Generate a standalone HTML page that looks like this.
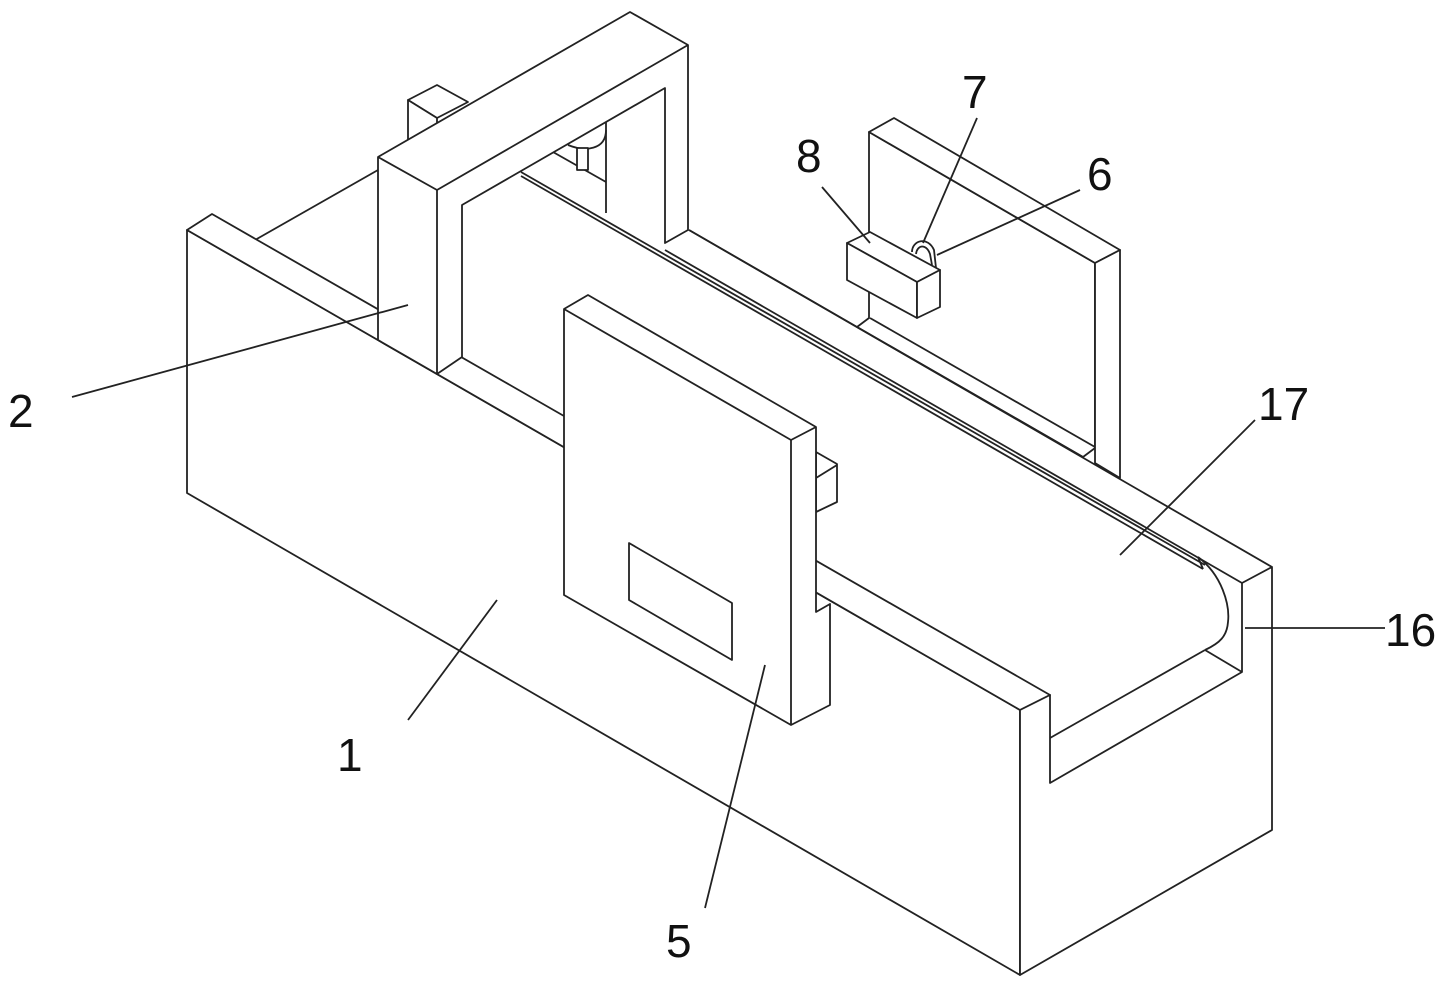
<!DOCTYPE html>
<html><head><meta charset="utf-8"><style>
html,body{margin:0;padding:0;background:#fff;}
svg{display:block}
text{font-family:"Liberation Sans",sans-serif;font-size:46px;fill:#111}
</style></head><body>
<svg width="1443" height="988" viewBox="0 0 1443 988" xmlns="http://www.w3.org/2000/svg">
<g stroke="#222" stroke-width="1.8" fill="none" stroke-linejoin="round">
<!-- back wall lines -->
<line x1="689" y1="230" x2="1272" y2="567"/>
<line x1="665" y1="250" x2="1242" y2="583"/>
<!-- belt far edge double -->
<line x1="521" y1="172" x2="1205" y2="565"/>
<line x1="521" y1="176" x2="1203" y2="569"/>
<!-- left end back edge -->
<line x1="255" y1="240" x2="378" y2="170"/>
<!-- back panel -->
<polygon points="869,132 1095,263 1095,448 1083,457 857,327 869,318" fill="#fff"/>
<polygon points="869,132 894,118 1120,250 1095,263" fill="#fff"/>
<polygon points="1095,263 1120,250 1120,478 1095,463" fill="#fff"/>
<line x1="870" y1="318" x2="1095" y2="447"/>
<line x1="857" y1="327" x2="1083" y2="457"/>
<line x1="689" y1="230" x2="857" y2="327"/>
<!-- box 8 -->
<polygon points="847,243 870,232 940,270 917,282" fill="#fff"/>
<polygon points="847,243 917,282 917,318 847,280" fill="#fff"/>
<polygon points="917,282 940,270 940,307 917,318" fill="#fff"/>
<path d="M912,252 C912,240 928,236 934,250 L936,268" />
<path d="M916,254 C917,245 926,243 930,254 L932,265" />
<!-- small block behind gantry -->
<polygon points="408,100 437,85 468,102 437,118" fill="#fff"/>
<polygon points="408,100 437,118 437,160 408,145" fill="#fff"/>
<!-- nozzle -->
<line x1="606" y1="120" x2="606" y2="213"/>
<line x1="553" y1="152" x2="606" y2="182"/>
<path d="M568,145 C585,152 606,150 606,130" fill="#fff"/>
<rect x="577" y="148" width="11" height="22" fill="#fff"/>
<!-- base front wall -->
<polygon points="187,230 1020,710 1020,975 187,493" fill="#fff"/>
<polygon points="187,230 212,214 1050,695 1020,710" fill="#fff"/>
<!-- gantry -->
<polygon points="378,157 630,12 688,45 688,230 665,243 665,88 462,205 462,357 437,374 378,340" fill="#fff"/>
<polyline points="378,157 437,190 688,45"/>
<line x1="437" y1="190" x2="437" y2="374"/>
<!-- panel 5 side block -->
<polygon points="816,452 837,464 837,502 816,512" fill="#fff"/>
<line x1="816" y1="478" x2="837" y2="465"/>
<!-- panel 5 -->
<polygon points="564,309 588,295 816,427 816,612 830,604 830,705 791,725 564,595" fill="#fff"/>
<polyline points="564,309 791,440 816,427"/>
<line x1="791" y1="440" x2="791" y2="725"/>
<polygon points="629,543 732,603 732,660 629,600"/>
<!-- right end -->
<polygon points="1020,710 1050,695 1050,783 1242,672 1242,583 1272,567 1272,830 1020,975" fill="#fff"/>
<line x1="1050" y1="738" x2="1205" y2="650"/>
<line x1="1205" y1="650" x2="1242" y2="672"/>
<path d="M1198,557 C1222,575 1230,605 1228,622 C1227,636 1220,643 1205,650"/>
<line x1="1203" y1="569" x2="1198" y2="557"/>
<!-- leaders -->
<line x1="72" y1="397" x2="408" y2="305"/>
<line x1="408" y1="720" x2="497" y2="600"/>
<line x1="705" y1="908" x2="765" y2="665"/>
<line x1="1255" y1="420" x2="1120" y2="555"/>
<line x1="1245" y1="628" x2="1385" y2="628"/>
<line x1="822" y1="187" x2="870" y2="243"/>
<line x1="977" y1="118" x2="923" y2="243"/>
<line x1="1080" y1="190" x2="937" y2="255"/>
</g>
<text x="8" y="427">2</text>
<text x="337" y="771">1</text>
<text x="666" y="957">5</text>
<text x="1258" y="420">17</text>
<text x="1385" y="646">16</text>
<text x="796" y="172">8</text>
<text x="962" y="108">7</text>
<text x="1087" y="190">6</text>
</svg>
</body></html>
